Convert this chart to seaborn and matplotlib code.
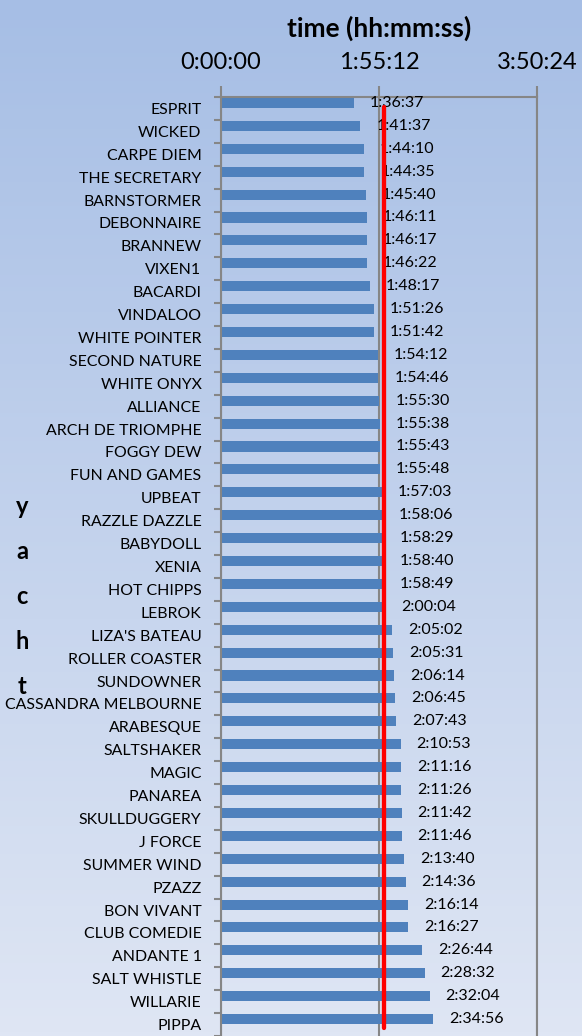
import matplotlib.pyplot as plt
import matplotlib.colors as mcolors
import seaborn as sns
import numpy as np
import pandas as pd

yachts = ['ESPRIT', 'WICKED', 'CARPE DIEM', 'THE SECRETARY', 'BARNSTORMER',
          'DEBONNAIRE', 'BRANNEW', 'VIXEN1', 'BACARDI', 'VINDALOO',
          'WHITE POINTER', 'SECOND NATURE', 'WHITE ONYX', 'ALLIANCE',
          'ARCH DE TRIOMPHE', 'FOGGY DEW', 'FUN AND GAMES', 'UPBEAT',
          'RAZZLE DAZZLE', 'BABYDOLL', 'XENIA', 'HOT CHIPPS', 'LEBROK',
          "LIZA'S BATEAU", 'ROLLER COASTER', 'SUNDOWNER', 'CASSANDRA MELBOURNE',
          'ARABESQUE', 'SALTSHAKER', 'MAGIC', 'PANAREA', 'SKULLDUGGERY',
          'J FORCE', 'SUMMER WIND', 'PZAZZ', 'BON VIVANT', 'CLUB COMEDIE',
          'ANDANTE 1', 'SALT WHISTLE', 'WILLARIE', 'PIPPA']
times = ['1:36:37', '1:41:37', '1:44:10', '1:44:35', '1:45:40',
         '1:46:11', '1:46:17', '1:46:22', '1:48:17', '1:51:26',
         '1:51:42', '1:54:12', '1:54:46', '1:55:30',
         '1:55:38', '1:55:43', '1:55:48', '1:57:03',
         '1:58:06', '1:58:29', '1:58:40', '1:58:49', '2:00:04',
         '2:05:02', '2:05:31', '2:06:14', '2:06:45',
         '2:07:43', '2:10:53', '2:11:16', '2:11:26', '2:11:42',
         '2:11:46', '2:13:40', '2:14:36', '2:16:14', '2:16:27',
         '2:26:44', '2:28:32', '2:32:04', '2:34:56']
x_ticks = ['0:00:00', '1:55:12', '3:50:24']
red_line_time = '1:58:29'


def to_seconds(t):
    h, m, s = t.split(':')
    return int(h) * 3600 + int(m) * 60 + int(s)


df = pd.DataFrame({'yacht': yachts, 'seconds': [to_seconds(t) for t in times]})

sns.set_theme(style='white')
plt.rcParams['font.family'] = ['Lato', 'DejaVu Sans']
grey = '#868686'

fig = plt.figure(figsize=(5.82, 10.36), dpi=100)

# gradient background
bg = fig.add_axes([0, 0, 1, 1], zorder=-1)
cmap = mcolors.LinearSegmentedColormap.from_list('bg', ['#A6BEE5', '#DFE6F4'])
bg.imshow(np.linspace(0, 1, 256).reshape(-1, 1), aspect='auto', cmap=cmap,
          extent=[0, 1, 0, 1], origin='upper')
bg.axis('off')

ax = fig.add_axes([221 / 582, 0, 316 / 582, 1 - 97 / 1036])
ax.patch.set_alpha(0)
sns.barplot(data=df, x='seconds', y='yacht', orient='h', color='#4F81BD',
            saturation=1, width=0.44, linewidth=0, ax=ax)

ax.bar_label(ax.containers[0], labels=times, padding=11.5, fontsize=11.5,
             color='black')
ax.axvline(to_seconds(red_line_time), ymin=0.0085, ymax=0.989, color='red',
           lw=3.1, zorder=5)

n = len(yachts)
ax.set_xlim(0, to_seconds(x_ticks[-1]))
ax.set_ylim(40.69, -0.26)

ax.xaxis.tick_top()
ax.xaxis.set_label_position('top')
ax.set_xticks([to_seconds(t) for t in x_ticks], x_ticks)
ax.tick_params(axis='x', length=8, width=1.5, color=grey, labelsize=17, pad=9,
               labelcolor='black')
ax.set_xlabel('time (hh:mm:ss)', fontweight='bold', fontsize=19, labelpad=11,
              color='black')

ax.set_yticks(np.arange(n) + 0.24, yachts)
ax.set_yticks(np.arange(n + 1) - 0.26, minor=True)
ax.tick_params(axis='y', which='major', length=0, labelsize=11.4, pad=14,
               labelcolor='black')
ax.tick_params(axis='y', which='minor', length=5, width=1.5, color=grey,
               direction='out', left=True)
ax.set_ylabel('y\na\nc\nh\nt', rotation=0, fontweight='bold', fontsize=17,
              linespacing=2.15, va='center', ha='center', color='black')
ax.yaxis.set_label_coords(-0.63, 0.468)

ax.grid(axis='x', color=grey, lw=1.5)
ax.set_axisbelow(True)
ax.spines['bottom'].set_visible(False)
for side in ['top', 'left', 'right']:
    ax.spines[side].set_color(grey)
    ax.spines[side].set_linewidth(1.5)

plt.savefig('out.png', dpi=100)
plt.close()
